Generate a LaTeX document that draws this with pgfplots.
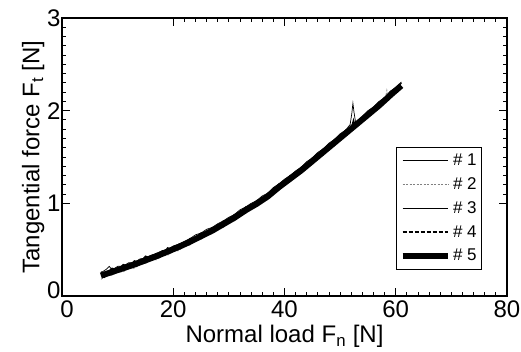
\documentclass[border=0pt]{standalone}
\usepackage{fontspec}
\setmainfont{Liberation Sans}
\usepackage{pgfplots}
\pgfplotsset{compat=1.18}
\begin{document}
\begin{tikzpicture}
\begin{axis}[
  width=445pt, height=278pt, scale only axis,
  xmin=0, xmax=80, ymin=0, ymax=3,
  xtick={20,40,60,80}, ytick={1,2,3},
  minor x tick num=9, minor y tick num=9,
  extra x ticks={0}, extra y ticks={0},
  extra x tick style={xticklabel style={xshift=5pt}},
  extra y tick style={yticklabel style={yshift=6pt}},
  tick align=inside, tick pos=both,
  major tick length=8pt, minor tick length=4pt,
  axis line style={line width=1.6pt},
  every tick/.style={black, line width=1pt},
  /pgf/number format/assume math mode=true,
  tick label style={font=\fontsize{24}{28}\selectfont},
  label style={font=\fontsize{24}{28}\selectfont},
  xticklabel style={yshift=-1pt},
  yticklabel style={xshift=2pt},
  xlabel={Normal load F\textsubscript{n} [N]},
  ylabel={Tangential force F\textsubscript{t} [N]},
  xlabel style={yshift=-0.5pt},
  ylabel style={yshift=-4pt},
  legend style={at={(0.944,0.094)}, anchor=south east, draw=black, line width=0.8pt,
    font=\fontsize{17}{20}\selectfont, row sep=6.5pt, inner xsep=3pt, inner ysep=5pt},
  legend cell align=left,
  legend image code/.code={\draw[#1] (0cm,0cm) -- (1.6cm,0cm);},
]
\addplot[black, line width=0.7pt] coordinates {
(7,.25)(8,.29)(8.5,.32)(9,.28)(10,.32)(11,.32)(12,.36)(13,.36)(14,.40)(15,.41)(16,.44)(17,.46)(18,.49)(19,.50)(20,.54)(21,.56)(22,.59)(23,.62)(24,.66)(25,.68)(26,.72)(27,.74)(28,.78)(29,.81)(30,.85)(31,.88)(32,.93)(33,.96)(34,1.00)(35,1.03)(36,1.08)(37,1.11)(38,1.17)(39,1.21)(40,1.26)(41,1.30)(42,1.35)(43,1.39)(44,1.45)(45,1.49)(46,1.55)(47,1.59)(48,1.65)(49,1.69)(50,1.75)(51,1.79)(51.8,1.85)(52.1,1.97)(52.3,2.08)(52.5,1.98)(52.8,1.87)(53.5,1.91)(54,1.94)(55,2.00)(56,2.04)(57,2.10)(58,2.14)(59,2.21)(60,2.25)(61,2.31)};
\addlegendentry{\# 1}
\addplot[gray, line width=0.7pt, dash pattern=on 2pt off 1.5pt] coordinates {
(7,.18)(8,.22)(9,.22)(10,.26)(11,.26)(12,.30)(13,.30)(14,.34)(15,.35)(16,.39)(17,.39)(18,.43)(19,.44)(20,.48)(21,.49)(22,.54)(23,.55)(24,.60)(25,.61)(26,.66)(27,.67)(28,.72)(29,.74)(30,.79)(31,.81)(32,.87)(33,.89)(34,.94)(35,.96)(36,1.02)(37,1.04)(38,1.10)(39,1.14)(40,1.20)(41,1.23)(42,1.29)(43,1.32)(44,1.39)(45,1.42)(46,1.49)(47,1.52)(48,1.59)(49,1.62)(50,1.69)(51,1.72)(52,1.79)(53,1.82)(54,1.89)(55,1.92)(56,1.99)(57,2.02)(58,2.09)(58.4,2.22)(58.7,2.11)(59,2.14)(60,2.20)(61,2.24)};
\addlegendentry{\# 2}
\addplot[black, line width=1.2pt] coordinates {
(7,.26)(8,.24)(9,.30)(10,.28)(11,.34)(12,.32)(13,.38)(14,.36)(15,.43)(16,.41)(17,.46)(18,.45)(19,.52)(20,.50)(21,.56)(22,.56)(23,.62)(24,.62)(25,.68)(26,.68)(27,.74)(28,.74)(29,.81)(30,.81)(31,.88)(32,.89)(33,.96)(34,.96)(35,1.03)(36,1.04)(37,1.11)(38,1.13)(39,1.21)(40,1.22)(41,1.30)(42,1.31)(43,1.39)(44,1.41)(45,1.49)(46,1.51)(47,1.59)(48,1.61)(49,1.69)(50,1.71)(51,1.79)(52,1.81)(52.4,1.90)(52.7,1.84)(53,1.88)(54,1.91)(55,1.99)(56,2.01)(57,2.09)(58,2.11)(59,2.20)(60,2.22)(61,2.30)};
\addlegendentry{\# 3}
\addplot[black, line width=1.8pt, dash pattern=on 4pt off 2pt] coordinates {
(7.5,.20)(8.5,.25)(9.5,.25)(10.5,.29)(11.5,.29)(12.5,.33)(13.5,.33)(14.5,.38)(15.5,.38)(16.5,.42)(17.5,.42)(18.5,.47)(19.5,.47)(20.5,.52)(21.5,.53)(22.5,.57)(23.5,.58)(24.5,.64)(25.5,.64)(26.5,.70)(27.5,.71)(28.5,.76)(29.5,.78)(30.5,.83)(31.5,.85)(32.5,.91)(33.5,.93)(34.5,.98)(35.5,1.00)(36.5,1.06)(37.5,1.08)(38.5,1.15)(39.5,1.18)(40.5,1.24)(41.5,1.27)(42.5,1.34)(43.5,1.36)(44.5,1.43)(45.5,1.46)(46.5,1.53)(47.5,1.56)(48.5,1.63)(49.5,1.66)(50.5,1.73)(51.5,1.76)(52.5,1.83)(53.5,1.86)(54.5,1.93)(55.5,1.96)(56.5,2.03)(57.5,2.07)(58.5,2.14)(59.5,2.17)(60.5,2.25)};
\addlegendentry{\# 4}
\addplot[black, line width=6pt] coordinates {
(7,.22)(9,.26)(11,.30)(13,.34)(15,.385)(17,.43)(19,.48)(21,.53)(23,.585)(25,.645)(27,.705)(29,.775)(31,.845)(33,.925)(35,.995)(37,1.075)(39,1.175)(41,1.265)(43,1.355)(45,1.455)(47,1.555)(49,1.655)(51,1.755)(53,1.855)(55,1.955)(57,2.055)(59,2.165)(61,2.27)};
\addlegendentry{\# 5}
\end{axis}
\pgfresetboundingbox
\path ([shift={(-62pt,-55pt)}]current axis.south west) rectangle ([shift={(14pt,18pt)}]current axis.north east);
\end{tikzpicture}
\end{document}
